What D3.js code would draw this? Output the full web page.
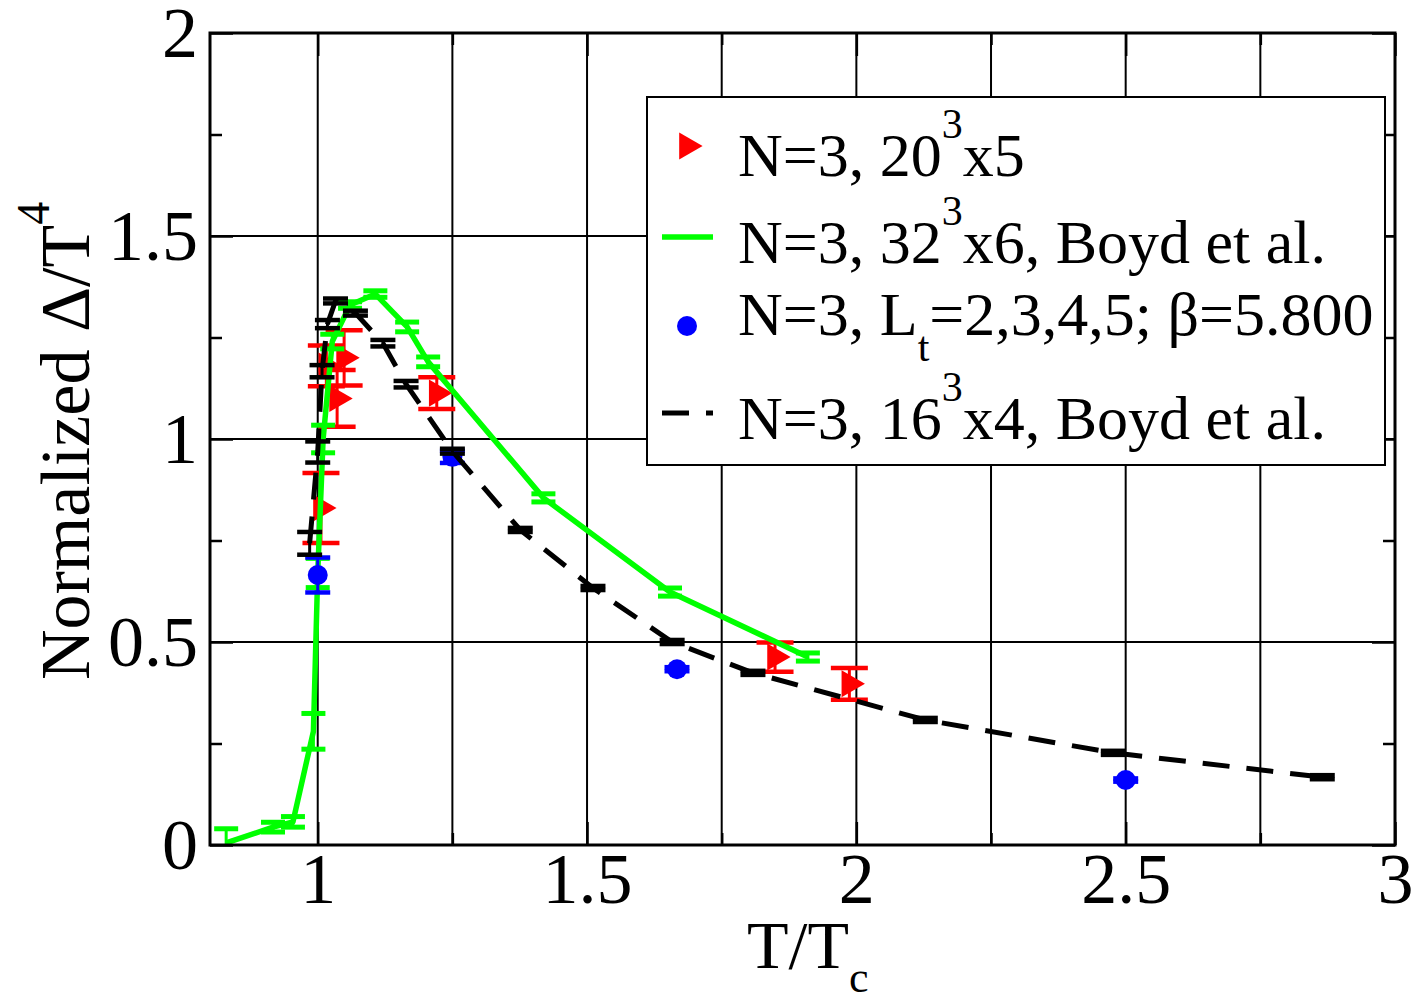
<!DOCTYPE html>
<html>
<head>
<meta charset="utf-8">
<script src="https://cdn.jsdelivr.net/npm/d3@7"></script>
<style>
  html, body { margin: 0; padding: 0; background: #fff; }
  svg { display: block; }
</style>
</head>
<body>
<svg id="chart" width="1423" height="1001"></svg>
<script>
// ---------------- data ----------------
// N=3, 20^3x5 (red triangles)
const redT = [1.006, 1.016, 1.036, 1.049, 1.221, 1.849, 1.987];
const redV = [0.83, 1.18, 1.10, 1.20, 1.113, 0.463, 0.397];
const redE = [0.086, 0.05, 0.07, 0.068, 0.039, 0.036, 0.039];

// N=3, 32^3x6, Boyd et al. (green line)
const greenT = [0.83, 0.917, 0.954, 0.992, 1.0, 1.01, 1.027, 1.06, 1.107, 1.166, 1.205, 1.419, 1.654, 1.91];
const greenV = [0.005, 0.044, 0.057, 0.28, 0.67, 1.0, 1.24, 1.33, 1.357, 1.276, 1.19, 0.855, 0.623, 0.463];
const greenE = [0.035, 0.012, 0.013, 0.044, 0.036, 0.034, 0.018, 0.008, 0.008, 0.012, 0.012, 0.01, 0.01, 0.01];

// N=3, Lt=2,3,4,5; beta=5.800 (blue circles)
const blueT = [1.0, 1.25, 1.667, 2.5];
const blueV = [0.665, 0.956, 0.433, 0.16];
const blueE = [0.043, 0.015, 0.005, 0.004];

// N=3, 16^3x4, Boyd et al. (black dashed)
const blackT = [0.985, 1.0, 1.008, 1.018, 1.033, 1.07, 1.121, 1.164, 1.25, 1.376, 1.511, 1.658, 1.808, 2.128, 2.477, 2.865];
const blackV = [0.743, 0.968, 1.167, 1.283, 1.34, 1.31, 1.236, 1.135, 0.97, 0.776, 0.633, 0.5, 0.424, 0.308, 0.227, 0.167];
const blackE = [0.028, 0.026, 0.015, 0.01, 0.006, 0.006, 0.008, 0.008, 0.006, 0.005, 0.005, 0.005, 0.005, 0.005, 0.005, 0.005];

// axes
const xMajorTicks = [1, 1.5, 2, 2.5, 3];
const xTickLabels = ["1", "1.5", "2", "2.5", "3"];
const xMinorTicks = [1.25, 1.75, 2.25, 2.75];
const yMajorTicks = [0, 0.5, 1, 1.5, 2];
const yTickLabels = ["0", "0.5", "1", "1.5", "2"];
const yMinorTicks = [0.25, 0.75, 1.25, 1.75];
const xGrid = [1, 1.25, 1.5, 1.75, 2, 2.25, 2.5, 2.75];
const yGrid = [0.5, 1, 1.5];

const legendLabels = [
  {pre: "N=3, 20", sup: "3", post: "x5"},
  {pre: "N=3, 32", sup: "3", post: "x6, Boyd et al."},
  {pre: "N=3, L", sub: "t", post: "=2,3,4,5; β=5.800"},
  {pre: "N=3, 16", sup: "3", post: "x4, Boyd et al."}
];

// ---------------- drawing ----------------
const FONT = "'Liberation Serif','Times New Roman',Times,serif";
const svg = d3.select("#chart");
const L = 210, R = 1395, T = 33, B = 845;
const x = d3.scaleLinear().domain([0.8, 3]).range([L, R]);
const y = d3.scaleLinear().domain([0, 2]).range([B, T]);

const zip = (a, b, c) => a.map((t, i) => ({t, v: b[i], e: c[i]}));
const red = zip(redT, redV, redE);
const green = zip(greenT, greenV, greenE);
const blue = zip(blueT, blueV, blueE);
const black = zip(blackT, blackV, blackE);

svg.append("rect").attr("width", 1423).attr("height", 1001).attr("fill", "#fff");

svg.append("defs").append("clipPath").attr("id", "plotclip")
  .append("rect").attr("x", L).attr("y", T).attr("width", R - L).attr("height", B - T);

// grid
const grid = svg.append("g").attr("stroke", "#000").attr("stroke-width", 2);
grid.selectAll("line.vg").data(xGrid).join("line")
  .attr("x1", d => x(d)).attr("x2", d => x(d)).attr("y1", T).attr("y2", B);
grid.selectAll("line.hg").data(yGrid).join("line")
  .attr("y1", d => y(d)).attr("y2", d => y(d)).attr("x1", L).attr("x2", R);

// ticks via axes
function styleAxis(g) {
  g.select(".domain").remove();
  g.selectAll(".tick line").attr("stroke", "#000").attr("stroke-width", 2.5);
  g.selectAll("text").attr("font-family", FONT).attr("font-size", 72).attr("fill", "#000");
}
const fmtX = d => xTickLabels[xMajorTicks.indexOf(d)];
const fmtY = d => yTickLabels[yMajorTicks.indexOf(d)];
svg.append("g").attr("transform", `translate(0,${B})`)
  .call(d3.axisBottom(x).tickValues(xMajorTicks).tickSize(-23).tickSizeOuter(0).tickPadding(7).tickFormat(fmtX))
  .call(styleAxis);
svg.append("g").attr("transform", `translate(0,${B})`)
  .call(d3.axisBottom(x).tickValues(xMinorTicks).tickSize(-12).tickSizeOuter(0).tickFormat(""))
  .call(styleAxis);
svg.append("g").attr("transform", `translate(0,${T})`)
  .call(d3.axisTop(x).tickValues(xMajorTicks).tickSize(-23).tickSizeOuter(0).tickFormat(""))
  .call(styleAxis);
svg.append("g").attr("transform", `translate(0,${T})`)
  .call(d3.axisTop(x).tickValues(xMinorTicks).tickSize(-12).tickSizeOuter(0).tickFormat(""))
  .call(styleAxis);
svg.append("g").attr("transform", `translate(${L},0)`)
  .call(d3.axisLeft(y).tickValues(yMajorTicks).tickSize(-23).tickSizeOuter(0).tickPadding(12).tickFormat(fmtY))
  .call(styleAxis);
svg.append("g").attr("transform", `translate(${L},0)`)
  .call(d3.axisLeft(y).tickValues(yMinorTicks).tickSize(-12).tickSizeOuter(0).tickFormat(""))
  .call(styleAxis);
svg.append("g").attr("transform", `translate(${R},0)`)
  .call(d3.axisRight(y).tickValues(yMajorTicks).tickSize(-23).tickSizeOuter(0).tickFormat(""))
  .call(styleAxis);
svg.append("g").attr("transform", `translate(${R},0)`)
  .call(d3.axisRight(y).tickValues(yMinorTicks).tickSize(-12).tickSizeOuter(0).tickFormat(""))
  .call(styleAxis);

// data layer
const plot = svg.append("g").attr("clip-path", "url(#plotclip)");

function errorBars(g, data, color, capW, sw) {
  const eb = g.append("g").attr("stroke", color).attr("fill", "none");
  eb.selectAll("line.v").data(data).join("line")
    .attr("x1", d => x(d.t)).attr("x2", d => x(d.t))
    .attr("y1", d => y(d.v - d.e)).attr("y2", d => y(d.v + d.e))
    .attr("stroke-width", 3);
  eb.selectAll("line.top").data(data).join("line")
    .attr("x1", d => x(d.t) - capW / 2).attr("x2", d => x(d.t) + capW / 2)
    .attr("y1", d => y(d.v + d.e)).attr("y2", d => y(d.v + d.e))
    .attr("stroke-width", sw);
  eb.selectAll("line.bot").data(data).join("line")
    .attr("x1", d => x(d.t) - capW / 2).attr("x2", d => x(d.t) + capW / 2)
    .attr("y1", d => y(d.v - d.e)).attr("y2", d => y(d.v - d.e))
    .attr("stroke-width", sw);
}

const lineGen = d3.line().x(d => x(d.t)).y(d => y(d.v));
const triPath = d3.symbol(d3.symbolTriangle, 316)();

// red
const gRed = plot.append("g");
errorBars(gRed, red, "#ff0000", 37, 4.5);
gRed.selectAll("path").data(red).join("path")
  .attr("d", triPath).attr("fill", "#ff0000")
  .attr("transform", d => `translate(${x(d.t)},${y(d.v)}) rotate(90)`);

// green
const gGreen = plot.append("g");
gGreen.append("path").datum(green).attr("d", lineGen)
  .attr("fill", "none").attr("stroke", "#00ff00").attr("stroke-width", 5.5).attr("stroke-linejoin", "round");
errorBars(gGreen, green, "#00ff00", 24, 5);

// blue
const gBlue = plot.append("g");
errorBars(gBlue, blue, "#0000ff", 25, 4.5);
gBlue.selectAll("circle").data(blue).join("circle")
  .attr("cx", d => x(d.t)).attr("cy", d => y(d.v)).attr("r", 10).attr("fill", "#0000ff");

// black
const gBlack = plot.append("g");
gBlack.append("path").datum(black).attr("d", lineGen)
  .attr("fill", "none").attr("stroke", "#000").attr("stroke-width", 5).attr("stroke-dasharray", "27,17");
errorBars(gBlack, black, "#000", 25, 4.5);

// frame
svg.append("rect").attr("x", L).attr("y", T).attr("width", R - L).attr("height", B - T)
  .attr("fill", "none").attr("stroke", "#000").attr("stroke-width", 3);

// axis titles
const xt = svg.append("text").attr("x", 747).attr("y", 968)
  .attr("font-family", FONT).attr("font-size", 68).attr("fill", "#000");
xt.append("tspan").text("T/T");
xt.append("tspan").attr("dy", 24).attr("font-size", 44).text("c");

const yt = svg.append("text").attr("transform", "translate(89,680) rotate(-90)")
  .attr("font-family", FONT).attr("font-size", 70).attr("fill", "#000");
yt.append("tspan").text("Normalized Δ/T");
yt.append("tspan").attr("dy", -40).attr("font-size", 46).text("4");

// legend
const lg = svg.append("g");
lg.append("rect").attr("x", 647).attr("y", 97).attr("width", 738).attr("height", 368)
  .attr("fill", "#fff").attr("stroke", "#000").attr("stroke-width", 2);
const rowBase = [176, 263, 335, 439];
const rowMid = [146, 237, 326, 413];
// symbols
lg.append("path").attr("d", triPath).attr("fill", "#ff0000")
  .attr("transform", `translate(687,${rowMid[0]}) rotate(90)`);
lg.append("line").attr("x1", 662).attr("x2", 713).attr("y1", rowMid[1]).attr("y2", rowMid[1])
  .attr("stroke", "#00ff00").attr("stroke-width", 5.5);
lg.append("circle").attr("cx", 687).attr("cy", rowMid[2]).attr("r", 10).attr("fill", "#0000ff");
lg.append("line").attr("x1", 662).attr("x2", 713).attr("y1", rowMid[3]).attr("y2", rowMid[3])
  .attr("stroke", "#000").attr("stroke-width", 5).attr("stroke-dasharray", "27,17");
// labels
legendLabels.forEach((lab, i) => {
  const t = lg.append("text").attr("x", 738).attr("y", rowBase[i])
    .attr("font-family", FONT).attr("font-size", 62).attr("fill", "#000");
  t.append("tspan").text(lab.pre);
  if (lab.sup) {
    t.append("tspan").attr("dy", -38).attr("font-size", 42).text(lab.sup);
    t.append("tspan").attr("dy", 38).text(lab.post);
  } else {
    t.append("tspan").attr("dy", 26).attr("font-size", 42).text(lab.sub);
    t.append("tspan").attr("dy", -26).text(lab.post);
  }
});
</script>
</body>
</html>
